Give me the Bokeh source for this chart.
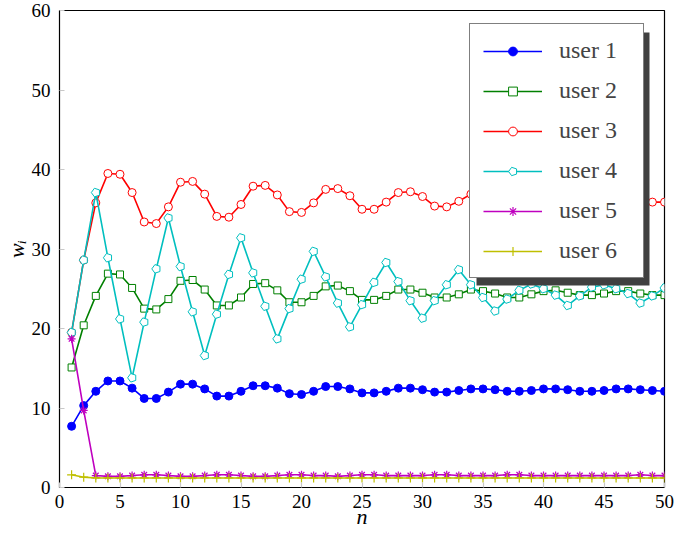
import math
from bokeh.plotting import figure
from bokeh.models import Range1d, Legend, LegendItem, BoxAnnotation, SingleIntervalTicker
from bokeh.embed import file_html
from bokeh.resources import INLINE

# ---------------- data ----------------
n = list(range(1, 51))
user1 = [7.7, 10.3, 12.1, 13.4, 13.4, 12.5, 11.2, 11.2, 12.0, 13.0, 13.0, 12.4, 11.5, 11.5, 12.1,
         12.8, 12.8, 12.5, 11.8, 11.7, 12.1, 12.7, 12.7, 12.4, 11.9, 11.9, 12.1, 12.5, 12.5, 12.3,
         12.0, 12.0, 12.2, 12.4, 12.4, 12.3, 12.1, 12.1, 12.2, 12.4, 12.4, 12.3, 12.1, 12.1, 12.2,
         12.4, 12.4, 12.3, 12.2, 12.1]
user2 = [15.1, 20.4, 24.1, 26.9, 26.8, 25.1, 22.5, 22.4, 23.7, 26.0, 26.1, 24.9, 22.9, 22.9, 23.9,
         25.6, 25.7, 24.8, 23.3, 23.3, 24.1, 25.3, 25.4, 24.7, 23.6, 23.6, 24.1, 24.9, 24.9, 24.5,
         23.9, 23.9, 24.3, 24.9, 24.7, 24.4, 23.9, 23.9, 24.3, 24.7, 24.8, 24.5, 24.2, 24.2, 24.4,
         24.7, 24.7, 24.4, 24.2, 24.2]
user3 = [19.5, 28.6, 35.8, 39.5, 39.4, 37.1, 33.4, 33.2, 35.3, 38.4, 38.5, 36.9, 34.1, 34.0, 35.6,
         37.9, 38.0, 36.8, 34.7, 34.6, 35.8, 37.5, 37.6, 36.7, 35.0, 35.0, 35.9, 37.1, 37.2, 36.6,
         35.4, 35.3, 36.0, 36.9, 37.0, 36.5, 35.7, 35.6, 36.0, 36.6, 36.7, 36.3, 35.8, 35.8, 36.1,
         36.4, 36.4, 36.1, 35.9, 35.9]
user4 = [19.5, 28.6, 37.1, 28.9, 21.2, 13.8, 20.8, 27.5, 33.9, 27.8, 22.1, 16.6, 21.8, 26.8, 31.4,
         27.0, 22.8, 18.7, 22.5, 26.2, 29.7, 26.5, 23.2, 20.2, 23.0, 25.8, 28.3, 25.9, 23.5, 21.3,
         23.5, 25.5, 27.4, 25.5, 23.9, 22.2, 23.7, 24.8, 25.6, 25.0, 24.2, 22.9, 24.1, 25.2, 25.5,
         25.0, 24.4, 23.2, 24.1, 25.1]
user5 = [18.7, 9.7, 1.5, 1.4, 1.4, 1.5, 1.6, 1.6, 1.5, 1.4, 1.4, 1.5, 1.6, 1.6, 1.5,
         1.4, 1.4, 1.5, 1.6, 1.6, 1.5, 1.5, 1.4, 1.5, 1.6, 1.6, 1.5, 1.5, 1.5, 1.5,
         1.6, 1.6, 1.5, 1.5, 1.5, 1.5, 1.6, 1.6, 1.5, 1.5, 1.5, 1.5, 1.5, 1.5, 1.5,
         1.5, 1.5, 1.6, 1.5, 1.5]
user6 = [1.6, 1.3, 1.2, 1.2, 1.2, 1.2, 1.2, 1.2, 1.2, 1.2, 1.2, 1.2, 1.2, 1.2, 1.2,
         1.2, 1.2, 1.2, 1.2, 1.2, 1.2, 1.2, 1.2, 1.2, 1.2, 1.2, 1.2, 1.2, 1.2, 1.2,
         1.2, 1.2, 1.2, 1.2, 1.2, 1.2, 1.2, 1.2, 1.2, 1.2, 1.2, 1.2, 1.2, 1.2, 1.2,
         1.2, 1.2, 1.2, 1.2, 1.2]
labels = ["user 1", "user 2", "user 3", "user 4", "user 5", "user 6"]
x_label = "n"
y_label = "w\u1d62"
x_ticks_interval = 5
y_ticks_interval = 10

# ---------------- style ----------------
FONT = "Liberation Serif"
FW, FH = 605, 477
colors = ["#0000ff", "#008000", "#ff0000", "#00bfbf", "#bf00bf", "#bfbf00"]

p = figure(frame_width=FW, frame_height=FH, x_range=Range1d(0, 50), y_range=Range1d(0, 60),
           output_backend="svg", toolbar_location=None,
           min_border_left=57, min_border_right=10, min_border_top=10, min_border_bottom=44)
p.xgrid.visible = False
p.ygrid.visible = False
p.outline_line_color = "black"
p.outline_line_width = 1.2
p.background_fill_color = "white"
p.border_fill_color = "white"

p.xaxis.ticker = SingleIntervalTicker(interval=x_ticks_interval)
p.yaxis.ticker = SingleIntervalTicker(interval=y_ticks_interval)
for ax in (p.xaxis[0], p.yaxis[0]):
    ax.axis_line_color = None
    ax.major_tick_in = 5
    ax.major_tick_out = 0
    ax.major_tick_line_color = "#c8c8c8"
    ax.major_tick_line_width = 1.2
    ax.minor_tick_line_color = None
    ax.major_label_text_font = FONT
    ax.major_label_text_font_size = "19px"
    ax.major_label_text_color = "black"
    ax.axis_label_text_font = FONT
    ax.axis_label_text_font_style = "italic"
    ax.axis_label_text_font_size = "22px"
    ax.axis_label_text_color = "black"
p.xaxis.major_label_standoff = 3
p.yaxis.major_label_standoff = 5

p.yaxis.axis_label = y_label
p.yaxis.axis_label_standoff = 0
p.xaxis.axis_label = x_label
p.xaxis.axis_label_standoff = -7

LW = 1.6

# user 1
l1 = p.line(n, user1, line_color=colors[0], line_width=LW)
m1 = p.scatter(n, user1, marker="circle", size=8, fill_color=colors[0], line_color=colors[0])
# user 2
l2 = p.line(n, user2, line_color=colors[1], line_width=LW)
m2 = p.scatter(n, user2, marker="square", size=7, fill_color="white", line_color=colors[1], line_width=1)
# user 3
l3 = p.line(n, user3, line_color=colors[2], line_width=LW)
m3 = p.scatter(n, user3, marker="circle", size=8, fill_color="white", line_color=colors[2], line_width=1)
# user 4
l4 = p.line(n, user4, line_color=colors[3], line_width=LW)
try:
    m4 = p.ngon(x=n, y=user4, radius=4.5, radius_units="screen", n=5, angle=math.pi / 2,
                fill_color="white", line_color=colors[3], line_width=1)
except Exception:
    m4 = p.scatter(n, user4, marker="hex", size=8, fill_color="white", line_color=colors[3], line_width=1)
# user 5
l5 = p.line(n, user5, line_color=colors[4], line_width=LW)
m5 = p.scatter(n, user5, marker="asterisk", size=8, line_color=colors[4], line_width=1.2)
# user 6
l6 = p.line(n, user6, line_color=colors[5], line_width=LW)
m6 = p.scatter(n, user6, marker="cross", size=9, line_color=colors[5], line_width=1.2)

pairs = [(l1, m1), (l2, m2), (l3, m3), (l4, m4), (l5, m5), (l6, m6)]
items = [LegendItem(label=lab, renderers=[a, b]) for lab, (a, b) in zip(labels, pairs)]

# legend placement (screen px from frame bottom-left, legend bottom-left corner)
PAD, ITEM_H, SPACING = 13, 27, 13
LEG_X, LEG_Y, SH = 410, 209, 7
LEG_W = 173
LEG_H = 2 * PAD + 6 * ITEM_H + 5 * SPACING
shadow = BoxAnnotation(left=(LEG_X + SH) * 50 / FW, right=(LEG_X + LEG_W + SH) * 50 / FW,
                       bottom=(LEG_Y - SH) * 60 / FH, top=(LEG_Y + LEG_H - SH) * 60 / FH,
                       fill_color="#404040", fill_alpha=1.0, line_color=None)
p.add_layout(shadow)

legend = Legend(items=items, location=(LEG_X, LEG_Y), margin=0, padding=PAD,
                spacing=SPACING, glyph_width=59, glyph_height=22, label_height=22,
                label_standoff=17, label_width=71,
                label_text_font=FONT, label_text_font_size="24px",
                border_line_color="black", border_line_width=1.2,
                background_fill_color="white", background_fill_alpha=1.0)
p.add_layout(legend)

open("out.html", "w").write(file_html(p, INLINE))
